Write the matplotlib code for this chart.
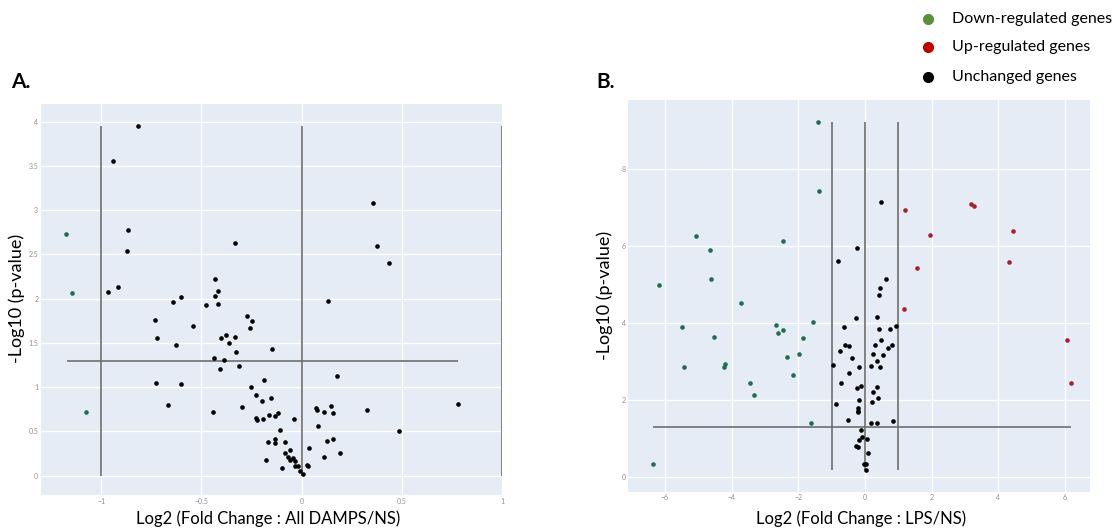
import matplotlib.pyplot as plt
import numpy as np

plt.rcParams['font.family'] = ['Lato', 'DejaVu Sans']
plt.rcParams['axes.unicode_minus'] = True

# panel A: All DAMPS vs NS
a_down_x = [-1.174, -1.145, -1.075]
a_down_y = [2.73, 2.06, 0.72]
a_unch_x = [-0.814, -0.942, -0.865, -0.870, -0.968, -0.915, 0.359, 0.375, 0.437, -0.334,
            -0.432, -0.432, -0.415, -0.415, -0.475, -0.640, -0.600, 0.131, -0.733, -0.719,
            -0.543, -0.625, -0.272, -0.249, -0.257, -0.402, -0.377, -0.332, -0.360, -0.327,
            -0.146, -0.439, -0.385, -0.407, -0.311, -0.728, -0.600, -0.664, -0.442, -0.296,
            -0.251, -0.186, -0.226, -0.196, -0.150, -0.228, -0.221, -0.191, -0.163, -0.133,
            -0.116, -0.040, -0.106, -0.133, -0.130, -0.169, -0.083, -0.081, -0.056, -0.066,
            -0.045, -0.060, -0.035, -0.178, -0.095, -0.032, -0.017, -0.010, 0.005, 0.027,
            0.033, 0.037, 0.071, 0.078, 0.110, 0.145, 0.156, 0.083, 0.126, 0.159,
            0.111, 0.191, 0.179, 0.329, 0.485, 0.781]
a_unch_y = [3.95, 3.555, 2.78, 2.54, 2.07, 2.135, 3.08, 2.60, 2.40, 2.625,
            2.226, 2.03, 2.083, 1.944, 1.932, 1.966, 2.023, 1.970, 1.763, 1.556,
            1.691, 1.476, 1.804, 1.744, 1.672, 1.559, 1.589, 1.571, 1.503, 1.401,
            1.428, 1.333, 1.311, 1.202, 1.235, 1.043, 1.036, 0.802, 0.723, 0.776,
            1.002, 1.081, 0.911, 0.847, 0.881, 0.648, 0.629, 0.637, 0.686, 0.678,
            0.708, 0.640, 0.512, 0.414, 0.365, 0.384, 0.377, 0.260, 0.290, 0.215,
            0.200, 0.173, 0.169, 0.177, 0.090, 0.113, 0.109, 0.049, 0.019, 0.124,
            0.105, 0.309, 0.768, 0.738, 0.719, 0.787, 0.704, 0.561, 0.392, 0.418,
            0.211, 0.256, 1.122, 0.742, 0.505, 0.806]

# panel B: LPS vs NS
b_down_x = [-1.406, -1.386, -5.055, -4.636, -4.626, -2.463, -6.171, -3.729, -5.503, -4.516,
            -5.444, -4.237, -4.197, -2.682, -2.602, -2.473, -1.555, -1.874, -2.333, -1.994,
            -2.164, -3.460, -3.340, -1.605, -6.361]
b_down_y = [9.24, 7.44, 6.26, 5.91, 5.14, 6.13, 4.99, 4.51, 3.90, 3.64,
            2.86, 2.85, 2.94, 3.95, 3.74, 3.81, 4.03, 3.62, 3.12, 3.19,
            2.65, 2.43, 2.12, 1.41, 0.32]
b_up_x = [1.206, 1.954, 1.545, 1.157, 3.180, 3.280, 4.427, 4.307, 6.072, 6.191]
b_up_y = [6.95, 6.30, 5.42, 4.37, 7.09, 7.05, 6.40, 5.58, 3.57, 2.43]
b_unch_x = [0.469, -0.239, -0.808, 0.618, 0.439, 0.419, -0.279, 0.369, -0.638, 0.429,
            0.758, 0.917, 0.489, -0.608, -0.489, 0.289, 0.808, 0.688, -0.738, 0.249,
            0.528, -0.399, 0.349, -0.947, -0.179, 0.169, 0.449, -0.489, -0.728, -0.249,
            -0.110, 0.349, 0.249, 0.399, -0.179, 0.219, -0.877, -0.219, -0.209, -0.219,
            -0.498, 0.179, 0.349, 0.847, -0.120, -0.080, -0.179, 0.070, -0.259, -0.219,
            0.090, -0.030, 0.030, 0.040]
b_unch_y = [7.14, 5.95, 5.61, 5.15, 4.90, 4.72, 4.13, 4.16, 3.89, 3.84,
            3.84, 3.92, 3.57, 3.44, 3.40, 3.44, 3.43, 3.34, 3.28, 3.19,
            3.16, 3.09, 3.01, 2.90, 2.86, 2.88, 2.85, 2.71, 2.43, 2.32,
            2.35, 2.33, 2.20, 2.06, 2.00, 1.95, 1.90, 1.78, 1.72, 1.68,
            1.48, 1.41, 1.40, 1.45, 1.21, 1.03, 0.95, 0.97, 0.80, 0.76,
            0.62, 0.34, 0.32, 0.17]

green = '#1f6e50'
red = '#a5222c'
line_c = '#6e6e6e'

fig = plt.figure(figsize=(11.19, 5.32), dpi=100)
axA = fig.add_axes([0.0366, 0.0695, 0.412, 0.735])
axB = fig.add_axes([0.5615, 0.0758, 0.4126, 0.736])


def style(ax):
    ax.set_facecolor('#e5ecf6')
    ax.grid(True, color='white', linewidth=1.0)
    ax.set_axisbelow(True)
    for s in ax.spines.values():
        s.set_visible(False)
    ax.tick_params(length=0, labelsize=5, labelcolor='#8a8f99', pad=2)


style(axA)
axA.set_xlim(-1.3, 1.0)
axA.set_ylim(-0.22, 4.2)
axA.set_xticks([-1, -0.5, 0, 0.5, 1])
axA.set_xticklabels(['\u22121', '\u22120.5', '0', '0.5', '1'])
axA.set_yticks([0, 0.5, 1, 1.5, 2, 2.5, 3, 3.5, 4])
axA.set_yticklabels(['0', '0.5', '1', '1.5', '2', '2.5', '3', '3.5', '4'])
axA.vlines([-1, 0, 1], 0, 3.955, color=line_c, linewidth=1.2, zorder=2)
axA.hlines(1.3, -1.171, 0.78, color=line_c, linewidth=1.2, zorder=2)
axA.scatter(a_down_x, a_down_y, s=11, color=green, zorder=3, linewidths=0)
axA.scatter(a_unch_x, a_unch_y, s=11, color='black', zorder=3, linewidths=0)

style(axB)
axB.set_xlim(-7.1, 6.75)
axB.set_ylim(-0.39, 9.8)
axB.set_xticks([-6, -4, -2, 0, 2, 4, 6])
axB.set_xticklabels(['\u22126', '\u22124', '\u22122', '0', '2', '4', '6'])
axB.set_yticks([0, 2, 4, 6, 8])
axB.vlines([-1, 0, 1], 0.17, 9.24, color=line_c, linewidth=1.2, zorder=2)
axB.hlines(1.3, -6.36, 6.18, color=line_c, linewidth=1.2, zorder=2)
axB.scatter(b_down_x, b_down_y, s=11, color=green, zorder=3, linewidths=0)
axB.scatter(b_up_x, b_up_y, s=11, color=red, zorder=3, linewidths=0)
axB.scatter(b_unch_x, b_unch_y, s=11, color='black', zorder=3, linewidths=0)

# panel letters and axis titles
fig.text(21 / 1119, 1 - 82 / 532, 'A.', fontsize=15, fontweight='bold', ha='center', va='center')
fig.text(606 / 1119, 1 - 82 / 532, 'B.', fontsize=15, fontweight='bold', ha='center', va='center')
fig.text(17 / 1119, 1 - 298 / 532, '-Log10 (p-value)', fontsize=13, rotation=90, ha='center', va='center')
fig.text(605 / 1119, 1 - 295 / 532, '-Log10 (p-value)', fontsize=13, rotation=90, ha='center', va='center')
fig.text(268 / 1119, 1 - 519 / 532, 'Log2 (Fold Change : All DAMPS/NS)', fontsize=12, ha='center', va='center')
fig.text(861 / 1119, 1 - 519 / 532, 'Log2 (Fold Change : LPS/NS)', fontsize=12, ha='center', va='center')

# legend drawn by hand in figure coords
leg_labels = ['Down-regulated genes', 'Up-regulated genes', 'Unchanged genes']
leg_colors = ['#5a8f3c', '#c00000', 'black']
leg_y = [19, 47, 77]
for lab, col, yy in zip(leg_labels, leg_colors, leg_y):
    fig.lines.append(plt.Line2D([928 / 1119], [1 - yy / 532], marker='o', markersize=7,
                                color=col, linestyle='none', transform=fig.transFigure))
    fig.text(952 / 1119, 1 - yy / 532, lab, fontsize=11.5, ha='left', va='center')

fig.savefig('out.png', dpi=100)
